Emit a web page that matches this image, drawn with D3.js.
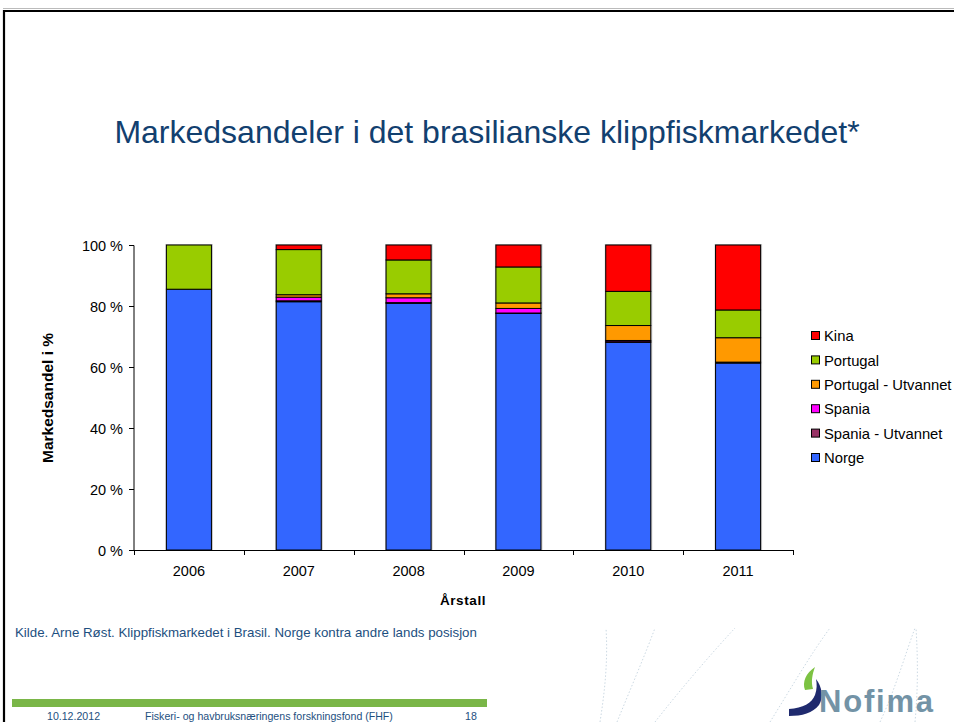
<!DOCTYPE html>
<html><head><meta charset="utf-8">
<script src="https://cdn.jsdelivr.net/npm/d3@7"></script>
<style>body{margin:0;background:#fff}svg{display:block}</style>
</head><body>
<svg id="c" width="954" height="722"></svg>
<script>
const years = ["2006","2007","2008","2009","2010","2011"];
const seriesNames = ["Norge","Spania - Utvannet","Spania","Portugal - Utvannet","Portugal","Kina"];
const norge        = [85.5, 81.4, 80.9, 77.6, 68.1, 61.3];
const spaniaUtv    = [0.0, 0.3, 0.2, 0.1, 0.2, 0.3];
const spania       = [0.0, 1.2, 1.6, 1.5, 0.4, 0.0];
const portugalUtv  = [0.0, 0.8, 1.3, 1.8, 4.9, 8.0];
const portugal     = [14.5, 14.8, 11.1, 11.8, 11.2, 9.1];
const kina         = [0.0, 1.5, 4.9, 7.2, 15.2, 21.3];
const yTicks = [0, 20, 40, 60, 80, 100];
const colors = ["#3366FF","#993366","#FF00FF","#FF9900","#99CC00","#FF0000"];
const legendOrder = ["Kina","Portugal","Portugal - Utvannet","Spania","Spania - Utvannet","Norge"];

const svg = d3.select("#c");
const font = "Arial, 'Liberation Sans', sans-serif";

// slide frame
svg.append("line").attr("x1",3).attr("x2",954).attr("y1",8.5).attr("y2",8.5).attr("stroke","#bbb").attr("stroke-width",1);
svg.append("path").attr("d","M4,722 V11 H954").attr("fill","none").attr("stroke","#000").attr("stroke-width",2.2);

// background dashed curves (decor)
const deco = svg.append("g").attr("fill","none").attr("stroke","#b5c7d6").attr("stroke-width",0.7).attr("stroke-dasharray","1.5,2");
["M600,722 C605,690 608,660 606,628","M617,722 C630,690 645,655 655,628","M655,722 C680,690 710,655 735,628","M770,722 C790,690 810,655 830,628","M880,722 C895,690 905,655 915,628","M915,722 C918,690 918,660 916,628"].forEach(d=>deco.append("path").attr("d",d));

// title
svg.append("text").attr("x",487).attr("y",143).attr("text-anchor","middle")
  .attr("font-family",font).attr("font-size",32).attr("fill","#12406f")
  .text("Markedsandeler i det brasilianske klippfiskmarkedet*");

// scales
const x = d3.scaleBand().domain(years).range([134,793]).paddingInner(0.59).paddingOuter(0.295);
const y = d3.scaleLinear().domain([0,100]).range([550,245]);

const data = years.map((yr,i)=>({year:yr,"Norge":norge[i],"Spania - Utvannet":spaniaUtv[i],"Spania":spania[i],"Portugal - Utvannet":portugalUtv[i],"Portugal":portugal[i],"Kina":kina[i]}));
const stacked = d3.stack().keys(seriesNames)(data);
const color = d3.scaleOrdinal().domain(seriesNames).range(colors);

// shadows
svg.append("g").selectAll("rect").data(data).join("rect")
  .attr("x",d=>x(d.year)-1).attr("y",y(100)-1).attr("width",x.bandwidth()+2.5).attr("height",y(0)-y(100)+1)
  .attr("fill","#c8c8c8");

svg.append("g").selectAll("g").data(stacked).join("g").attr("fill",d=>color(d.key))
  .selectAll("rect").data(d=>d.filter(p=>p[1]-p[0]>0)).join("rect")
  .attr("x",d=>x(d.data.year)).attr("y",d=>y(d[1])).attr("width",x.bandwidth())
  .attr("height",d=>y(d[0])-y(d[1]))
  .attr("stroke","#000").attr("stroke-width",1);

// y axis
const ya = svg.append("g").attr("transform","translate(134,0)")
  .call(d3.axisLeft(y).tickValues(yTicks).tickSize(5).tickFormat(d=>d+" %"));
ya.select(".domain").attr("stroke","#000").attr("d","M-5,245.5H0V550.5H-5");
ya.selectAll("text").attr("font-family",font).attr("font-size",14.5).attr("fill","#000").attr("dx",-3).attr("dy","0.35em");

// x axis
const xa = svg.append("g").attr("transform","translate(0,550)")
  .call(d3.axisBottom(x).tickSize(0).tickPadding(16));
xa.select(".domain").attr("stroke","#000").attr("d","M134,0.5H793");
xa.selectAll("text").attr("font-family",font).attr("font-size",14.5).attr("fill","#000");
const bounds = years.map(yv=>x(yv)-x.step()*x.paddingInner()/2).concat([793]);
svg.append("g").selectAll("line").data(bounds).join("line")
  .attr("x1",d=>Math.round(d)+0.5).attr("x2",d=>Math.round(d)+0.5).attr("y1",550).attr("y2",555).attr("stroke","#000");

// axis titles
svg.append("text").attr("transform","translate(53,398) rotate(-90)").attr("text-anchor","middle")
  .attr("font-family",font).attr("font-size",15.5).attr("font-weight","bold").text("Markedsandel i %");
svg.append("text").attr("x",463).attr("y",605).attr("text-anchor","middle")
  .attr("font-family",font).attr("font-size",13.5).attr("font-weight","bold").attr("letter-spacing",0.6).text("Årstall");

// legend
const lg = svg.append("g").attr("transform","translate(811,336)");
legendOrder.forEach((n,i)=>{
  const g = lg.append("g").attr("transform",`translate(0,${i*24.4})`);
  g.append("rect").attr("x",0.5).attr("y",-4.5).attr("width",8).attr("height",8).attr("fill",color(n)).attr("stroke","#000").attr("stroke-width",1);
  g.append("text").attr("x",13).attr("y",0).attr("dy","0.35em").attr("font-family",font).attr("font-size",14.8).text(n);
});

// source
svg.append("text").attr("x",15).attr("y",637).attr("font-family",font).attr("font-size",13.3).attr("fill","#1d4f80")
  .text("Kilde. Arne Røst. Klippfiskmarkedet i Brasil. Norge kontra andre lands posisjon");

// footer
svg.append("rect").attr("x",12).attr("y",699).attr("width",475).attr("height",8).attr("fill","#7ab648");
const ft = svg.append("g").attr("font-family",font).attr("font-size",10.6).attr("fill","#1d4f80");
ft.append("text").attr("x",47).attr("y",719.5).text("10.12.2012");
ft.append("text").attr("x",145).attr("y",719.5).text("Fiskeri- og havbruksnæringens forskningsfond (FHF)");
ft.append("text").attr("x",465).attr("y",719.5).text("18");

// Nofima logo
const logo = svg.append("g");
logo.append("path").attr("d","M805,690 C802,682 806,673 815,667 C812,675 811,682 813,689 Z").attr("fill","#7cc242");
logo.append("path").attr("d","M789,709 C803,708 812,703 815,695 C817,689 817,684 816,679 C822,687 824,697 819,705 C813,713 802,716 789,716 Z").attr("fill","#1f2a6e");
logo.append("text").attr("x",819).attr("y",712).attr("font-family",font).attr("font-weight","bold")
  .attr("font-size",31).attr("letter-spacing",1.8).attr("fill","#7393a6").text("Nofima");
</script>
</body></html>
